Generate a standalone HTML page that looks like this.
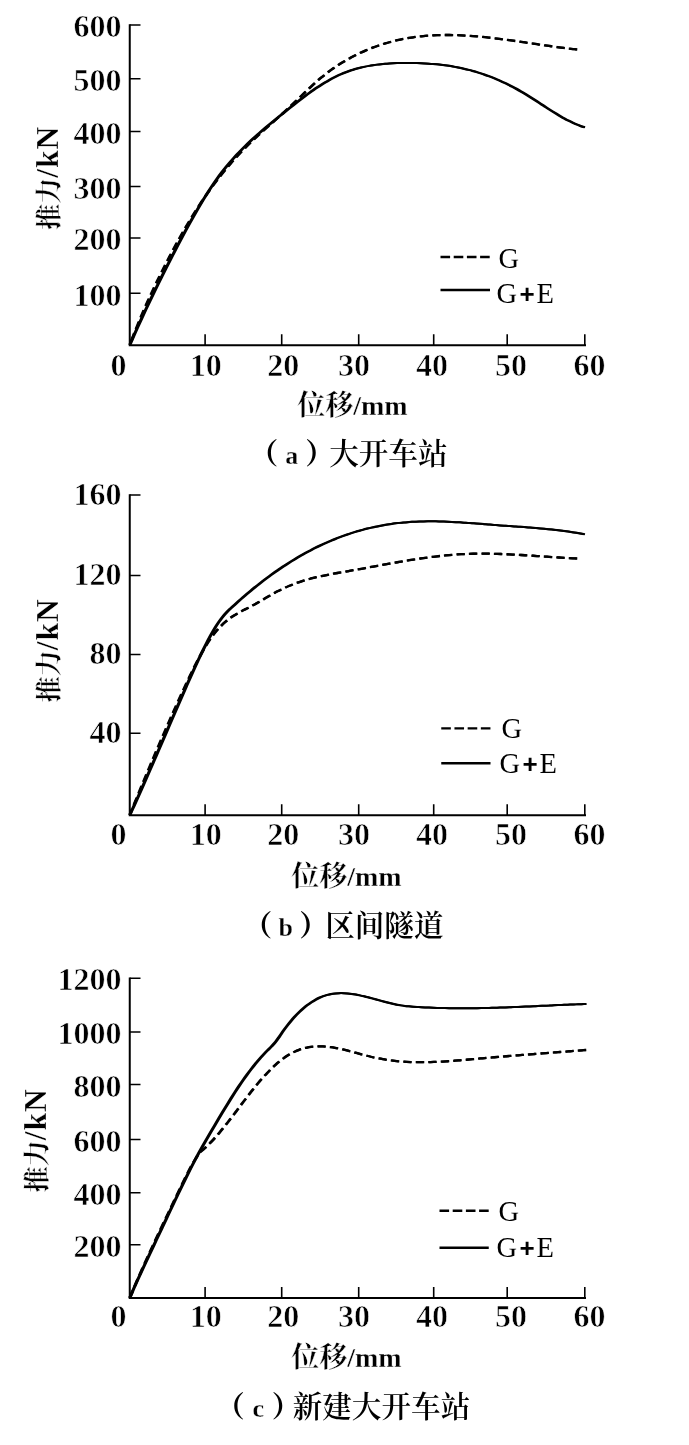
<!DOCTYPE html>
<html lang="zh"><head><meta charset="utf-8"><title>推力-位移曲线</title>
<style>html,body{margin:0;padding:0;background:#fff}svg{display:block}text{font-family:'Liberation Serif','Noto Serif CJK SC',serif;fill:#000}.tk{font-size:32px;font-weight:bold;stroke:#fff;stroke-width:.6px}.lg{font-size:28.5px}.pl{font-family:'Liberation Sans',sans-serif;font-weight:bold;font-size:26px}.cj{font-family:'Noto Serif CJK SC','Liberation Serif',serif;font-weight:600}.er{stroke:#fff;stroke-width:.3px}.ax{stroke:#000;fill:none}</style></head><body>
<svg width="689" height="1445" viewBox="0 0 689 1445">
<rect width="689" height="1445" fill="#fff"/>
<g>
<path class="ax" stroke-width="2" d="M129.75,24.20 V345.20 H586.00"/>
<path class="ax" stroke-width="1.6" d="M129.75,25.00 H140.50 M129.75,78.75 H140.50 M129.75,131.50 H140.50 M129.75,186.50 H140.50 M129.75,238.00 H140.50 M129.75,293.25 H140.50 M205.10,345.20 V334.20 M281.70,345.20 V334.20 M358.70,345.20 V334.20 M433.70,345.20 V334.20 M507.20,345.20 V334.20 M584.80,345.20 V334.20"/>
<text class="tk" x="121.5" y="37.30" text-anchor="end">600</text>
<text class="tk" x="121.5" y="91.05" text-anchor="end">500</text>
<text class="tk" x="121.5" y="143.80" text-anchor="end">400</text>
<text class="tk" x="121.5" y="198.80" text-anchor="end">300</text>
<text class="tk" x="121.5" y="250.30" text-anchor="end">200</text>
<text class="tk" x="121.5" y="305.55" text-anchor="end">100</text>
<text class="tk" x="118.60" y="375.70" text-anchor="middle">0</text>
<text class="tk" x="205.70" y="375.70" text-anchor="middle">10</text>
<text class="tk" x="283.20" y="375.70" text-anchor="middle">20</text>
<text class="tk" x="354.10" y="375.70" text-anchor="middle">30</text>
<text class="tk" x="432.10" y="375.70" text-anchor="middle">40</text>
<text class="tk" x="510.90" y="375.70" text-anchor="middle">50</text>
<text class="tk" x="589.40" y="375.70" text-anchor="middle">60</text>
<defs><path id="sa" d="M129.80,345.00 C130.46,343.48 132.46,338.87 133.79,335.87 C135.12,332.86 136.45,329.88 137.78,326.94 C139.11,324.00 140.44,321.09 141.77,318.21 C143.10,315.33 144.42,312.49 145.75,309.66 C147.08,306.83 148.41,304.04 149.74,301.26 C151.07,298.49 152.40,295.74 153.73,293.00 C155.06,290.27 156.39,287.56 157.72,284.86 C159.05,282.16 160.38,279.48 161.71,276.81 C163.04,274.15 164.37,271.49 165.70,268.85 C167.03,266.21 168.36,263.58 169.69,260.97 C171.02,258.36 172.35,255.76 173.67,253.18 C175.00,250.60 176.33,248.04 177.66,245.50 C178.99,242.96 180.32,240.44 181.65,237.94 C182.98,235.45 184.31,232.97 185.64,230.52 C186.97,228.08 188.30,225.65 189.63,223.26 C190.96,220.87 192.29,218.50 193.62,216.16 C194.95,213.83 196.28,211.52 197.61,209.25 C198.94,206.98 200.27,204.73 201.59,202.53 C202.92,200.33 204.25,198.16 205.58,196.04 C206.91,193.91 208.24,191.82 209.57,189.78 C210.90,187.74 212.23,185.74 213.56,183.80 C214.89,181.85 216.22,179.94 217.55,178.09 C218.88,176.24 220.21,174.45 221.54,172.70 C222.87,170.96 224.20,169.27 225.53,167.62 C226.86,165.98 228.19,164.39 229.51,162.83 C230.84,161.28 232.17,159.77 233.50,158.30 C234.83,156.82 236.16,155.38 237.49,153.97 C238.82,152.56 240.15,151.19 241.48,149.83 C242.81,148.48 244.14,147.16 245.47,145.86 C246.80,144.55 248.13,143.28 249.46,142.02 C250.79,140.76 252.12,139.53 253.45,138.31 C254.78,137.10 256.11,135.90 257.44,134.72 C258.76,133.54 260.09,132.38 261.42,131.23 C262.75,130.08 264.08,128.95 265.41,127.82 C266.74,126.70 268.07,125.58 269.40,124.48 C270.73,123.37 272.06,122.28 273.39,121.19 C274.72,120.10 276.05,119.02 277.38,117.94 C278.71,116.86 280.04,115.79 281.37,114.71 C282.70,113.64 284.03,112.56 285.36,111.49 C286.68,110.42 288.01,109.35 289.34,108.29 C290.67,107.22 292.00,106.16 293.33,105.11 C294.66,104.06 295.99,103.01 297.32,101.98 C298.65,100.94 299.98,99.92 301.31,98.90 C302.64,97.89 303.97,96.88 305.30,95.89 C306.63,94.90 307.96,93.92 309.29,92.97 C310.62,92.01 311.95,91.06 313.28,90.13 C314.60,89.21 315.93,88.30 317.26,87.41 C318.59,86.53 319.92,85.66 321.25,84.82 C322.58,83.97 323.91,83.15 325.24,82.35 C326.57,81.56 327.90,80.79 329.23,80.04 C330.56,79.30 331.89,78.58 333.22,77.89 C334.55,77.21 335.88,76.55 337.21,75.92 C338.54,75.30 339.87,74.70 341.20,74.13 C342.53,73.56 343.85,73.02 345.18,72.50 C346.51,71.99 347.84,71.50 349.17,71.04 C350.50,70.58 351.83,70.14 353.16,69.73 C354.49,69.32 355.82,68.93 357.15,68.56 C358.48,68.20 359.81,67.86 361.14,67.54 C362.47,67.21 363.80,66.92 365.13,66.64 C366.46,66.36 367.79,66.10 369.12,65.86 C370.45,65.62 371.77,65.40 373.10,65.19 C374.43,64.99 375.76,64.80 377.09,64.63 C378.42,64.46 379.75,64.31 381.08,64.17 C382.41,64.03 383.74,63.90 385.07,63.79 C386.40,63.68 387.73,63.58 389.06,63.50 C390.39,63.41 391.72,63.34 393.05,63.28 C394.38,63.21 395.71,63.16 397.04,63.12 C398.37,63.08 399.70,63.04 401.02,63.02 C402.35,62.99 403.68,62.98 405.01,62.97 C406.34,62.96 407.67,62.95 409.00,62.96 C410.33,62.96 411.66,62.97 412.99,62.99 C414.32,63.01 415.65,63.04 416.98,63.07 C418.31,63.11 419.64,63.15 420.97,63.21 C422.30,63.26 423.63,63.32 424.96,63.40 C426.29,63.47 427.62,63.55 428.94,63.64 C430.27,63.73 431.60,63.83 432.93,63.95 C434.26,64.06 435.59,64.18 436.92,64.31 C438.25,64.45 439.58,64.59 440.91,64.75 C442.24,64.90 443.57,65.07 444.90,65.25 C446.23,65.43 447.56,65.62 448.89,65.83 C450.22,66.03 451.55,66.25 452.88,66.48 C454.21,66.71 455.54,66.95 456.86,67.21 C458.19,67.47 459.52,67.74 460.85,68.02 C462.18,68.30 463.51,68.60 464.84,68.92 C466.17,69.23 467.50,69.56 468.83,69.90 C470.16,70.24 471.49,70.59 472.82,70.97 C474.15,71.34 475.48,71.72 476.81,72.12 C478.14,72.53 479.47,72.94 480.80,73.37 C482.13,73.81 483.46,74.25 484.79,74.72 C486.11,75.18 487.44,75.66 488.77,76.15 C490.10,76.65 491.43,77.16 492.76,77.69 C494.09,78.21 495.42,78.76 496.75,79.32 C498.08,79.88 499.41,80.46 500.74,81.05 C502.07,81.64 503.40,82.25 504.73,82.88 C506.06,83.51 507.39,84.15 508.72,84.82 C510.05,85.48 511.38,86.16 512.71,86.86 C514.03,87.55 515.36,88.27 516.69,89.00 C518.02,89.74 519.35,90.49 520.68,91.26 C522.01,92.03 523.34,92.82 524.67,93.62 C526.00,94.42 527.33,95.25 528.66,96.08 C529.99,96.91 531.32,97.76 532.65,98.61 C533.98,99.46 535.31,100.32 536.64,101.19 C537.97,102.05 539.30,102.92 540.63,103.79 C541.95,104.65 543.28,105.53 544.61,106.39 C545.94,107.25 547.27,108.12 548.60,108.97 C549.93,109.82 551.26,110.67 552.59,111.50 C553.92,112.33 555.25,113.16 556.58,113.97 C557.91,114.77 559.24,115.57 560.57,116.34 C561.90,117.11 563.23,117.86 564.56,118.59 C565.89,119.32 567.22,120.03 568.55,120.70 C569.88,121.38 571.20,122.04 572.53,122.65 C573.86,123.27 575.19,123.87 576.52,124.42 C577.85,124.97 579.18,125.49 580.51,125.97 C581.84,126.45 583.84,127.08 584.50,127.30"/><path id="da" d="M129.80,345.00 C130.47,343.26 132.46,337.96 133.79,334.55 C135.12,331.14 136.45,327.82 137.79,324.56 C139.12,321.30 140.45,318.12 141.78,314.99 C143.11,311.87 144.44,308.81 145.77,305.80 C147.10,302.80 148.43,299.85 149.76,296.95 C151.10,294.05 152.43,291.21 153.76,288.40 C155.09,285.59 156.42,282.83 157.75,280.10 C159.08,277.36 160.41,274.67 161.74,272.01 C163.07,269.34 164.40,266.71 165.74,264.10 C167.07,261.50 168.40,258.92 169.73,256.37 C171.06,253.83 172.39,251.31 173.72,248.83 C175.05,246.35 176.38,243.90 177.71,241.48 C179.05,239.07 180.38,236.68 181.71,234.33 C183.04,231.98 184.37,229.66 185.70,227.38 C187.03,225.10 188.36,222.85 189.69,220.64 C191.02,218.42 192.35,216.25 193.69,214.11 C195.02,211.97 196.35,209.86 197.68,207.79 C199.01,205.73 200.34,203.69 201.67,201.70 C203.00,199.70 204.33,197.74 205.66,195.81 C207.00,193.88 208.33,191.99 209.66,190.13 C210.99,188.27 212.32,186.45 213.65,184.65 C214.98,182.86 216.31,181.10 217.64,179.37 C218.97,177.64 220.30,175.95 221.64,174.28 C222.97,172.61 224.30,170.98 225.63,169.37 C226.96,167.77 228.29,166.19 229.62,164.65 C230.95,163.10 232.28,161.59 233.61,160.10 C234.95,158.61 236.28,157.15 237.61,155.72 C238.94,154.29 240.27,152.88 241.60,151.50 C242.93,150.12 244.26,148.77 245.59,147.44 C246.92,146.10 248.25,144.80 249.59,143.50 C250.92,142.21 252.25,140.94 253.58,139.68 C254.91,138.42 256.24,137.18 257.57,135.95 C258.90,134.72 260.23,133.50 261.56,132.29 C262.90,131.08 264.23,129.88 265.56,128.69 C266.89,127.49 268.22,126.30 269.55,125.12 C270.88,123.93 272.21,122.75 273.54,121.56 C274.87,120.38 276.20,119.20 277.54,118.01 C278.87,116.82 280.20,115.63 281.53,114.43 C282.86,113.23 284.19,112.03 285.52,110.81 C286.85,109.59 288.18,108.37 289.51,107.13 C290.85,105.89 292.18,104.64 293.51,103.37 C294.84,102.11 296.17,100.83 297.50,99.56 C298.83,98.28 300.16,96.99 301.49,95.71 C302.82,94.44 304.15,93.15 305.49,91.88 C306.82,90.62 308.15,89.35 309.48,88.10 C310.81,86.85 312.14,85.61 313.47,84.40 C314.80,83.19 316.13,81.99 317.46,80.82 C318.80,79.65 320.13,78.51 321.46,77.40 C322.79,76.29 324.12,75.21 325.45,74.16 C326.78,73.12 328.11,72.11 329.44,71.13 C330.77,70.15 332.10,69.20 333.44,68.28 C334.77,67.36 336.10,66.47 337.43,65.60 C338.76,64.73 340.09,63.89 341.42,63.08 C342.75,62.26 344.08,61.47 345.41,60.70 C346.75,59.93 348.08,59.18 349.41,58.45 C350.74,57.72 352.07,57.01 353.40,56.32 C354.73,55.63 356.06,54.96 357.39,54.31 C358.72,53.66 360.05,53.03 361.39,52.42 C362.72,51.81 364.05,51.22 365.38,50.64 C366.71,50.07 368.04,49.51 369.37,48.98 C370.70,48.44 372.03,47.92 373.36,47.42 C374.70,46.92 376.03,46.44 377.36,45.97 C378.69,45.51 380.02,45.06 381.35,44.63 C382.68,44.20 384.01,43.78 385.34,43.38 C386.67,42.99 388.00,42.60 389.34,42.24 C390.67,41.87 392.00,41.52 393.33,41.19 C394.66,40.85 395.99,40.53 397.32,40.23 C398.65,39.92 399.98,39.64 401.31,39.36 C402.65,39.09 403.98,38.83 405.31,38.58 C406.64,38.34 407.97,38.10 409.30,37.89 C410.63,37.67 411.96,37.46 413.29,37.27 C414.62,37.08 415.95,36.90 417.29,36.74 C418.62,36.57 419.95,36.42 421.28,36.28 C422.61,36.14 423.94,36.01 425.27,35.90 C426.60,35.78 427.93,35.68 429.26,35.59 C430.60,35.49 431.93,35.41 433.26,35.34 C434.59,35.27 435.92,35.21 437.25,35.16 C438.58,35.12 439.91,35.08 441.24,35.05 C442.57,35.02 443.90,35.00 445.24,35.00 C446.57,34.99 447.90,34.99 449.23,35.00 C450.56,35.01 451.89,35.03 453.22,35.06 C454.55,35.09 455.88,35.12 457.21,35.17 C458.55,35.22 459.88,35.27 461.21,35.33 C462.54,35.39 463.87,35.46 465.20,35.54 C466.53,35.61 467.86,35.70 469.19,35.79 C470.52,35.88 471.85,35.98 473.19,36.08 C474.52,36.19 475.85,36.30 477.18,36.42 C478.51,36.53 479.84,36.66 481.17,36.78 C482.50,36.91 483.83,37.05 485.16,37.19 C486.50,37.33 487.83,37.47 489.16,37.62 C490.49,37.77 491.82,37.92 493.15,38.08 C494.48,38.24 495.81,38.40 497.14,38.57 C498.47,38.73 499.80,38.90 501.14,39.07 C502.47,39.25 503.80,39.42 505.13,39.60 C506.46,39.78 507.79,39.96 509.12,40.15 C510.45,40.33 511.78,40.52 513.11,40.71 C514.45,40.90 515.78,41.09 517.11,41.28 C518.44,41.47 519.77,41.67 521.10,41.86 C522.43,42.06 523.76,42.25 525.09,42.45 C526.42,42.65 527.75,42.85 529.09,43.04 C530.42,43.24 531.75,43.44 533.08,43.63 C534.41,43.83 535.74,44.03 537.07,44.23 C538.40,44.42 539.73,44.62 541.06,44.81 C542.40,45.01 543.73,45.20 545.06,45.39 C546.39,45.58 547.72,45.77 549.05,45.96 C550.38,46.15 551.71,46.33 553.04,46.52 C554.37,46.70 555.70,46.88 557.04,47.06 C558.37,47.24 559.70,47.41 561.03,47.58 C562.36,47.76 563.69,47.92 565.02,48.09 C566.35,48.25 567.68,48.41 569.01,48.57 C570.35,48.72 571.68,48.87 573.01,49.02 C574.34,49.18 576.33,49.42 577.00,49.50"/></defs>
<g class="ax" stroke-width="2" stroke-linejoin="round"><use href="#sa" x="-0.6"/><use href="#sa" x="0.6"/></g>
<g class="ax" stroke-width="2.3" stroke-dasharray="8 4.5" stroke-dashoffset="7.97"><use href="#da" x="-0.3"/><use href="#da" x="0.3"/></g>
<path class="ax" stroke-width="2.4" stroke-dasharray="9.6 3.6" d="M440.50,257.00 H490.00"/>
<path class="ax" stroke-width="2.4" d="M440.50,290.00 H490.00"/>
<text class="lg" x="498.50" y="267.80">G</text>
<text class="lg" y="302.80"><tspan x="496.50">G</tspan><tspan class="pl" x="519.50">+</tspan><tspan x="536.50">E</tspan></text>
<text class="er" transform="translate(58.00,229.75) rotate(-90)" style="font-size:31.5px;font-weight:bold;letter-spacing:1px"><tspan class="cj" style="font-size:26px;letter-spacing:0;font-weight:700">推力</tspan>/kN</text>
<text class="er" x="297.20" y="414.50" style="font-size:28px;font-weight:bold"><tspan class="cj" style="font-size:28px;font-weight:700">位移</tspan>/mm</text>
<text class="cj" y="464.20" style="font-size:29.6px"><tspan x="278.20" text-anchor="end" style="font-size:29px;font-weight:900">（</tspan><tspan class="er" x="291.70" text-anchor="middle" style="font-family:'Liberation Serif',serif;font-size:26px;font-weight:bold">a</tspan><tspan x="305.20" style="font-size:29px;font-weight:900">）</tspan><tspan x="329.20">大开车站</tspan></text>
</g>
<g>
<path class="ax" stroke-width="2" d="M129.75,494.20 V815.20 H586.00"/>
<path class="ax" stroke-width="1.6" d="M129.75,495.00 H140.50 M129.75,575.50 H140.50 M129.75,654.50 H140.50 M129.75,733.25 H140.50 M205.10,815.20 V804.20 M281.70,815.20 V804.20 M358.70,815.20 V804.20 M433.70,815.20 V804.20 M507.20,815.20 V804.20 M584.80,815.20 V804.20"/>
<text class="tk" x="121.5" y="504.90" text-anchor="end">160</text>
<text class="tk" x="121.5" y="585.40" text-anchor="end">120</text>
<text class="tk" x="121.5" y="664.40" text-anchor="end">80</text>
<text class="tk" x="121.5" y="743.15" text-anchor="end">40</text>
<text class="tk" x="118.60" y="845.00" text-anchor="middle">0</text>
<text class="tk" x="205.70" y="845.00" text-anchor="middle">10</text>
<text class="tk" x="283.20" y="845.00" text-anchor="middle">20</text>
<text class="tk" x="354.10" y="845.00" text-anchor="middle">30</text>
<text class="tk" x="432.10" y="845.00" text-anchor="middle">40</text>
<text class="tk" x="510.90" y="845.00" text-anchor="middle">50</text>
<text class="tk" x="589.40" y="845.00" text-anchor="middle">60</text>
<defs><path id="sb" d="M129.80,815.00 C130.47,813.54 132.49,809.16 133.84,806.21 C135.19,803.26 136.53,800.29 137.88,797.30 C139.22,794.31 140.57,791.30 141.92,788.28 C143.26,785.26 144.61,782.22 145.96,779.17 C147.30,776.12 148.65,773.05 150.00,769.97 C151.34,766.90 152.69,763.81 154.03,760.72 C155.38,757.63 156.73,754.52 158.07,751.42 C159.42,748.31 160.77,745.20 162.11,742.09 C163.46,738.97 164.81,735.85 166.15,732.74 C167.50,729.62 168.84,726.51 170.19,723.39 C171.54,720.28 172.88,717.17 174.23,714.07 C175.58,710.96 176.92,707.86 178.27,704.77 C179.62,701.68 180.96,698.60 182.31,695.53 C183.66,692.45 185.00,689.39 186.35,686.34 C187.69,683.30 189.04,680.26 190.39,677.26 C191.73,674.26 193.08,671.27 194.43,668.34 C195.77,665.40 197.12,662.49 198.47,659.64 C199.81,656.79 201.16,653.98 202.50,651.24 C203.85,648.50 205.20,645.81 206.54,643.20 C207.89,640.59 209.24,638.04 210.58,635.59 C211.93,633.13 213.28,630.69 214.62,628.47 C215.97,626.26 217.31,624.23 218.66,622.29 C220.01,620.34 221.36,618.48 222.70,616.82 C224.04,615.15 225.38,613.71 226.72,612.30 C228.06,610.89 229.40,609.63 230.74,608.36 C232.08,607.09 233.42,605.88 234.76,604.66 C236.10,603.44 237.44,602.24 238.78,601.05 C240.12,599.85 241.45,598.67 242.79,597.51 C244.13,596.35 245.47,595.19 246.81,594.06 C248.15,592.92 249.49,591.80 250.83,590.69 C252.17,589.58 253.51,588.48 254.85,587.40 C256.19,586.31 257.53,585.24 258.87,584.19 C260.21,583.13 261.55,582.09 262.89,581.06 C264.23,580.04 265.57,579.02 266.91,578.02 C268.25,577.02 269.59,576.03 270.93,575.06 C272.27,574.09 273.61,573.13 274.95,572.18 C276.29,571.24 277.62,570.31 278.96,569.39 C280.30,568.47 281.64,567.57 282.98,566.68 C284.32,565.79 285.66,564.91 287.00,564.05 C288.34,563.19 289.68,562.34 291.02,561.50 C292.36,560.67 293.70,559.85 295.04,559.04 C296.38,558.23 297.72,557.44 299.06,556.66 C300.40,555.88 301.74,555.11 303.08,554.36 C304.42,553.61 305.76,552.87 307.10,552.15 C308.44,551.42 309.78,550.71 311.12,550.02 C312.46,549.32 313.79,548.64 315.13,547.97 C316.47,547.30 317.81,546.65 319.15,546.01 C320.49,545.37 321.83,544.74 323.17,544.12 C324.51,543.51 325.85,542.91 327.19,542.32 C328.53,541.74 329.87,541.16 331.21,540.60 C332.55,540.04 333.89,539.49 335.23,538.96 C336.57,538.42 337.91,537.90 339.25,537.39 C340.59,536.89 341.93,536.39 343.27,535.91 C344.61,535.43 345.95,534.96 347.29,534.50 C348.63,534.04 349.96,533.60 351.30,533.17 C352.64,532.74 353.98,532.32 355.32,531.91 C356.66,531.50 358.00,531.11 359.34,530.73 C360.68,530.35 362.02,529.98 363.36,529.62 C364.70,529.26 366.04,528.92 367.38,528.59 C368.72,528.25 370.06,527.93 371.40,527.63 C372.74,527.32 374.08,527.02 375.42,526.74 C376.76,526.45 378.10,526.18 379.44,525.92 C380.78,525.66 382.12,525.41 383.46,525.17 C384.80,524.93 386.13,524.71 387.47,524.49 C388.81,524.28 390.15,524.08 391.49,523.89 C392.83,523.69 394.17,523.51 395.51,523.34 C396.85,523.18 398.19,523.02 399.53,522.87 C400.87,522.73 402.21,522.59 403.55,522.47 C404.89,522.34 406.23,522.23 407.57,522.13 C408.91,522.03 410.25,521.93 411.59,521.85 C412.93,521.77 414.27,521.70 415.61,521.64 C416.95,521.58 418.29,521.53 419.63,521.48 C420.97,521.44 422.30,521.41 423.64,521.38 C424.98,521.36 426.32,521.34 427.66,521.33 C429.00,521.32 430.34,521.32 431.68,521.33 C433.02,521.34 434.36,521.35 435.70,521.37 C437.04,521.39 438.38,521.42 439.72,521.45 C441.06,521.49 442.40,521.53 443.74,521.58 C445.08,521.62 446.42,521.67 447.76,521.73 C449.10,521.79 450.44,521.85 451.78,521.92 C453.12,521.99 454.46,522.06 455.80,522.13 C457.14,522.21 458.47,522.29 459.81,522.37 C461.15,522.46 462.49,522.54 463.83,522.63 C465.17,522.72 466.51,522.82 467.85,522.91 C469.19,523.01 470.53,523.10 471.87,523.20 C473.21,523.30 474.55,523.41 475.89,523.51 C477.23,523.61 478.57,523.71 479.91,523.82 C481.25,523.92 482.59,524.03 483.93,524.14 C485.27,524.24 486.61,524.35 487.95,524.45 C489.29,524.56 490.63,524.66 491.97,524.77 C493.31,524.87 494.64,524.98 495.98,525.08 C497.32,525.18 498.66,525.28 500.00,525.38 C501.34,525.48 502.68,525.58 504.02,525.67 C505.36,525.77 506.70,525.86 508.04,525.96 C509.38,526.05 510.72,526.15 512.06,526.24 C513.40,526.34 514.74,526.43 516.08,526.53 C517.42,526.62 518.76,526.72 520.10,526.81 C521.44,526.91 522.78,527.01 524.12,527.10 C525.46,527.20 526.80,527.30 528.14,527.40 C529.48,527.51 530.81,527.61 532.15,527.72 C533.49,527.82 534.83,527.93 536.17,528.04 C537.51,528.16 538.85,528.27 540.19,528.39 C541.53,528.51 542.87,528.63 544.21,528.76 C545.55,528.88 546.89,529.01 548.23,529.15 C549.57,529.28 550.91,529.42 552.25,529.56 C553.59,529.71 554.93,529.85 556.27,530.01 C557.61,530.16 558.95,530.32 560.29,530.49 C561.63,530.65 562.97,530.82 564.31,531.00 C565.65,531.18 566.98,531.36 568.32,531.55 C569.66,531.75 571.00,531.94 572.34,532.15 C573.68,532.35 575.02,532.57 576.36,532.79 C577.70,533.01 579.04,533.24 580.38,533.47 C581.72,533.71 583.73,534.08 584.40,534.20"/><path id="db" d="M129.80,815.00 C130.47,813.36 132.46,808.43 133.79,805.17 C135.12,801.90 136.45,798.65 137.79,795.41 C139.12,792.17 140.45,788.94 141.78,785.72 C143.11,782.51 144.44,779.30 145.77,776.11 C147.10,772.92 148.43,769.75 149.76,766.58 C151.10,763.42 152.43,760.27 153.76,757.14 C155.09,754.00 156.42,750.88 157.75,747.78 C159.08,744.67 160.41,741.58 161.74,738.51 C163.07,735.44 164.40,732.38 165.74,729.34 C167.07,726.30 168.40,723.27 169.73,720.27 C171.06,717.26 172.39,714.27 173.72,711.29 C175.05,708.32 176.38,705.37 177.71,702.43 C179.05,699.49 180.38,696.57 181.71,693.67 C183.04,690.77 184.37,687.89 185.70,685.03 C187.03,682.18 188.36,679.34 189.69,676.55 C191.02,673.77 192.35,671.01 193.69,668.33 C195.02,665.64 196.35,663.00 197.68,660.45 C199.01,657.90 200.34,655.41 201.67,653.03 C203.00,650.64 204.33,648.33 205.66,646.15 C207.00,643.96 208.33,641.87 209.66,639.91 C210.99,637.95 212.32,636.11 213.65,634.38 C214.98,632.65 216.31,631.05 217.64,629.53 C218.97,628.02 220.30,626.62 221.64,625.31 C222.97,624.00 224.30,622.80 225.63,621.67 C226.96,620.54 228.29,619.51 229.62,618.54 C230.95,617.56 232.28,616.67 233.61,615.81 C234.95,614.96 236.28,614.17 237.61,613.41 C238.94,612.64 240.27,611.92 241.60,611.21 C242.93,610.50 244.26,609.83 245.59,609.14 C246.92,608.46 248.25,607.79 249.59,607.10 C250.92,606.40 252.25,605.70 253.58,604.98 C254.91,604.25 256.24,603.50 257.57,602.74 C258.90,601.99 260.23,601.21 261.56,600.44 C262.90,599.66 264.23,598.87 265.56,598.10 C266.89,597.32 268.22,596.54 269.55,595.77 C270.88,595.00 272.21,594.24 273.54,593.50 C274.87,592.76 276.20,592.03 277.54,591.34 C278.87,590.64 280.20,589.96 281.53,589.31 C282.86,588.67 284.19,588.05 285.52,587.45 C286.85,586.85 288.18,586.28 289.51,585.73 C290.85,585.18 292.18,584.66 293.51,584.15 C294.84,583.64 296.17,583.16 297.50,582.70 C298.83,582.23 300.16,581.79 301.49,581.36 C302.82,580.93 304.15,580.53 305.49,580.13 C306.82,579.74 308.15,579.37 309.48,579.00 C310.81,578.64 312.14,578.30 313.47,577.96 C314.80,577.63 316.13,577.31 317.46,577.00 C318.80,576.69 320.13,576.39 321.46,576.10 C322.79,575.81 324.12,575.54 325.45,575.26 C326.78,574.99 328.11,574.73 329.44,574.48 C330.77,574.22 332.10,573.97 333.44,573.73 C334.77,573.48 336.10,573.24 337.43,573.00 C338.76,572.77 340.09,572.53 341.42,572.30 C342.75,572.07 344.08,571.84 345.41,571.61 C346.75,571.38 348.08,571.15 349.41,570.91 C350.74,570.68 352.07,570.45 353.40,570.21 C354.73,569.97 356.06,569.74 357.39,569.50 C358.72,569.26 360.05,569.02 361.39,568.77 C362.72,568.53 364.05,568.29 365.38,568.05 C366.71,567.80 368.04,567.56 369.37,567.31 C370.70,567.07 372.03,566.82 373.36,566.58 C374.70,566.34 376.03,566.09 377.36,565.85 C378.69,565.60 380.02,565.36 381.35,565.11 C382.68,564.87 384.01,564.63 385.34,564.39 C386.67,564.15 388.00,563.90 389.34,563.67 C390.67,563.43 392.00,563.19 393.33,562.95 C394.66,562.72 395.99,562.48 397.32,562.25 C398.65,562.02 399.98,561.79 401.31,561.56 C402.65,561.34 403.98,561.11 405.31,560.89 C406.64,560.67 407.97,560.45 409.30,560.23 C410.63,560.02 411.96,559.80 413.29,559.59 C414.62,559.39 415.95,559.18 417.29,558.98 C418.62,558.78 419.95,558.58 421.28,558.38 C422.61,558.19 423.94,558.00 425.27,557.82 C426.60,557.63 427.93,557.45 429.26,557.28 C430.60,557.10 431.93,556.93 433.26,556.77 C434.59,556.60 435.92,556.44 437.25,556.29 C438.58,556.13 439.91,555.98 441.24,555.84 C442.57,555.70 443.90,555.56 445.24,555.43 C446.57,555.30 447.90,555.18 449.23,555.06 C450.56,554.94 451.89,554.83 453.22,554.73 C454.55,554.63 455.88,554.53 457.21,554.44 C458.55,554.35 459.88,554.27 461.21,554.20 C462.54,554.12 463.87,554.06 465.20,554.00 C466.53,553.94 467.86,553.89 469.19,553.85 C470.52,553.80 471.85,553.77 473.19,553.74 C474.52,553.71 475.85,553.69 477.18,553.67 C478.51,553.66 479.84,553.65 481.17,553.65 C482.50,553.64 483.83,553.65 485.16,553.66 C486.50,553.67 487.83,553.68 489.16,553.70 C490.49,553.72 491.82,553.75 493.15,553.78 C494.48,553.81 495.81,553.84 497.14,553.88 C498.47,553.92 499.80,553.97 501.14,554.01 C502.47,554.06 503.80,554.12 505.13,554.17 C506.46,554.23 507.79,554.29 509.12,554.35 C510.45,554.41 511.78,554.48 513.11,554.55 C514.45,554.62 515.78,554.69 517.11,554.77 C518.44,554.84 519.77,554.92 521.10,555.00 C522.43,555.08 523.76,555.16 525.09,555.25 C526.42,555.33 527.75,555.41 529.09,555.50 C530.42,555.59 531.75,555.68 533.08,555.76 C534.41,555.85 535.74,555.94 537.07,556.03 C538.40,556.12 539.73,556.22 541.06,556.31 C542.40,556.40 543.73,556.49 545.06,556.58 C546.39,556.67 547.72,556.76 549.05,556.85 C550.38,556.94 551.71,557.03 553.04,557.12 C554.37,557.21 555.70,557.29 557.04,557.38 C558.37,557.46 559.70,557.55 561.03,557.63 C562.36,557.71 563.69,557.79 565.02,557.87 C566.35,557.95 567.68,558.03 569.01,558.10 C570.35,558.17 571.68,558.24 573.01,558.31 C574.34,558.38 576.33,558.47 577.00,558.50"/></defs>
<g class="ax" stroke-width="2" stroke-linejoin="round"><use href="#sb" x="-0.6"/><use href="#sb" x="0.6"/></g>
<g class="ax" stroke-width="2.3" stroke-dasharray="8 4.5" stroke-dashoffset="1.72"><use href="#db" x="-0.3"/><use href="#db" x="0.3"/></g>
<path class="ax" stroke-width="2.4" stroke-dasharray="9.6 3.6" d="M441.25,728.40 H490.50"/>
<path class="ax" stroke-width="2.4" d="M441.25,763.20 H490.50"/>
<text class="lg" x="501.50" y="738.00">G</text>
<text class="lg" y="772.70"><tspan x="499.50">G</tspan><tspan class="pl" x="522.50">+</tspan><tspan x="539.50">E</tspan></text>
<text class="er" transform="translate(58.00,702.25) rotate(-90)" style="font-size:31.5px;font-weight:bold;letter-spacing:1px"><tspan class="cj" style="font-size:26px;letter-spacing:0;font-weight:700">推力</tspan>/kN</text>
<text class="er" x="291.20" y="885.50" style="font-size:28px;font-weight:bold"><tspan class="cj" style="font-size:28px;font-weight:700">位移</tspan>/mm</text>
<text class="cj" y="936.20" style="font-size:29.6px"><tspan x="272.20" text-anchor="end" style="font-size:29px;font-weight:900">（</tspan><tspan class="er" x="285.70" text-anchor="middle" style="font-family:'Liberation Serif',serif;font-size:26px;font-weight:bold">b</tspan><tspan x="299.20" style="font-size:29px;font-weight:900">）</tspan><tspan x="325.20">区间隧道</tspan></text>
</g>
<g>
<path class="ax" stroke-width="2" d="M129.75,977.45 V1297.90 H586.00"/>
<path class="ax" stroke-width="1.6" d="M129.75,978.25 H140.50 M129.75,1032.00 H140.50 M129.75,1084.50 H140.50 M129.75,1139.50 H140.50 M129.75,1192.75 H140.50 M129.75,1244.75 H140.50 M205.10,1297.90 V1286.90 M281.70,1297.90 V1286.90 M358.70,1297.90 V1286.90 M433.70,1297.90 V1286.90 M507.20,1297.90 V1286.90 M584.80,1297.90 V1286.90"/>
<text class="tk" x="121.5" y="990.45" text-anchor="end">1200</text>
<text class="tk" x="121.5" y="1044.20" text-anchor="end">1000</text>
<text class="tk" x="121.5" y="1096.70" text-anchor="end">800</text>
<text class="tk" x="121.5" y="1151.70" text-anchor="end">600</text>
<text class="tk" x="121.5" y="1204.95" text-anchor="end">400</text>
<text class="tk" x="121.5" y="1256.95" text-anchor="end">200</text>
<text class="tk" x="118.60" y="1326.70" text-anchor="middle">0</text>
<text class="tk" x="205.70" y="1326.70" text-anchor="middle">10</text>
<text class="tk" x="283.20" y="1326.70" text-anchor="middle">20</text>
<text class="tk" x="354.10" y="1326.70" text-anchor="middle">30</text>
<text class="tk" x="432.10" y="1326.70" text-anchor="middle">40</text>
<text class="tk" x="510.90" y="1326.70" text-anchor="middle">50</text>
<text class="tk" x="589.40" y="1326.70" text-anchor="middle">60</text>
<defs><path id="sc" d="M129.80,1297.80 C130.48,1296.24 132.50,1291.53 133.85,1288.47 C135.20,1285.40 136.55,1282.39 137.90,1279.41 C139.25,1276.43 140.60,1273.49 141.95,1270.57 C143.30,1267.65 144.65,1264.77 146.00,1261.89 C147.35,1259.01 148.70,1256.15 150.05,1253.29 C151.40,1250.43 152.75,1247.58 154.10,1244.73 C155.45,1241.87 156.80,1239.01 158.15,1236.15 C159.50,1233.30 160.85,1230.44 162.20,1227.58 C163.55,1224.72 164.90,1221.86 166.25,1219.00 C167.60,1216.15 168.95,1213.29 170.30,1210.44 C171.65,1207.59 173.00,1204.74 174.35,1201.90 C175.70,1199.05 177.05,1196.21 178.40,1193.39 C179.75,1190.57 181.10,1187.75 182.45,1184.97 C183.80,1182.19 185.15,1179.43 186.50,1176.71 C187.85,1173.99 189.20,1171.31 190.55,1168.67 C191.90,1166.03 193.25,1163.42 194.60,1160.87 C195.95,1158.32 197.30,1155.81 198.65,1153.34 C200.00,1150.88 201.35,1148.46 202.70,1146.07 C204.05,1143.67 205.40,1141.32 206.75,1138.98 C208.10,1136.65 209.45,1134.34 210.80,1132.03 C212.15,1129.73 213.50,1127.44 214.85,1125.16 C216.20,1122.87 217.55,1120.59 218.90,1118.33 C220.25,1116.06 221.60,1113.80 222.95,1111.57 C224.30,1109.33 225.65,1107.10 227.00,1104.91 C228.35,1102.71 229.70,1100.54 231.05,1098.39 C232.40,1096.25 233.75,1094.13 235.10,1092.05 C236.45,1089.97 237.80,1087.93 239.15,1085.92 C240.50,1083.91 241.85,1081.94 243.20,1080.02 C244.55,1078.09 245.90,1076.21 247.25,1074.37 C248.60,1072.53 249.95,1070.74 251.30,1068.99 C252.65,1067.25 254.00,1065.55 255.35,1063.91 C256.70,1062.27 258.05,1060.68 259.40,1059.13 C260.75,1057.59 262.10,1056.11 263.45,1054.66 C264.80,1053.21 266.15,1051.80 267.50,1050.42 C268.85,1049.04 270.20,1047.81 271.55,1046.38 C272.90,1044.95 274.26,1043.52 275.60,1041.85 C276.94,1040.18 278.25,1038.25 279.58,1036.36 C280.90,1034.48 282.23,1032.39 283.56,1030.54 C284.88,1028.69 286.21,1026.94 287.54,1025.25 C288.86,1023.56 290.19,1021.94 291.51,1020.39 C292.84,1018.83 294.17,1017.35 295.49,1015.94 C296.82,1014.52 298.15,1013.18 299.47,1011.90 C300.80,1010.62 302.12,1009.41 303.45,1008.27 C304.78,1007.13 306.10,1006.06 307.43,1005.05 C308.75,1004.04 310.08,1003.10 311.41,1002.22 C312.73,1001.34 314.06,1000.53 315.39,999.79 C316.71,999.04 318.04,998.36 319.36,997.74 C320.69,997.13 322.02,996.56 323.34,996.08 C324.67,995.61 326.00,995.25 327.32,994.90 C328.65,994.55 329.96,994.24 331.30,993.99 C332.64,993.75 334.03,993.59 335.39,993.45 C336.75,993.30 338.11,993.18 339.48,993.14 C340.84,993.09 342.20,993.12 343.57,993.17 C344.93,993.22 346.29,993.31 347.66,993.44 C349.02,993.56 350.38,993.72 351.74,993.91 C353.11,994.10 354.47,994.32 355.83,994.56 C357.20,994.81 358.56,995.08 359.92,995.37 C361.29,995.66 362.65,995.97 364.01,996.29 C365.37,996.62 366.74,996.96 368.10,997.31 C369.46,997.66 370.83,998.03 372.19,998.40 C373.55,998.77 374.91,999.14 376.28,999.52 C377.64,999.89 379.00,1000.28 380.37,1000.65 C381.73,1001.02 383.09,1001.40 384.46,1001.76 C385.82,1002.12 387.18,1002.48 388.54,1002.82 C389.91,1003.16 391.27,1003.49 392.63,1003.80 C394.00,1004.11 395.36,1004.41 396.72,1004.68 C398.09,1004.94 399.45,1005.17 400.81,1005.38 C402.17,1005.59 403.55,1005.78 404.90,1005.94 C406.25,1006.10 407.58,1006.21 408.92,1006.33 C410.27,1006.45 411.61,1006.55 412.95,1006.64 C414.29,1006.74 415.63,1006.83 416.97,1006.92 C418.31,1007.01 419.66,1007.09 421.00,1007.17 C422.34,1007.25 423.68,1007.32 425.02,1007.39 C426.36,1007.46 427.71,1007.52 429.05,1007.58 C430.39,1007.64 431.73,1007.70 433.07,1007.75 C434.41,1007.80 435.75,1007.85 437.10,1007.89 C438.44,1007.94 439.78,1007.98 441.12,1008.01 C442.46,1008.05 443.80,1008.08 445.14,1008.11 C446.49,1008.14 447.83,1008.16 449.17,1008.18 C450.51,1008.20 451.85,1008.22 453.19,1008.24 C454.53,1008.25 455.88,1008.26 457.22,1008.27 C458.56,1008.27 459.90,1008.28 461.24,1008.28 C462.58,1008.28 463.93,1008.28 465.27,1008.27 C466.61,1008.27 467.95,1008.26 469.29,1008.25 C470.63,1008.24 471.97,1008.23 473.32,1008.21 C474.66,1008.19 476.00,1008.17 477.34,1008.15 C478.68,1008.13 480.02,1008.11 481.36,1008.08 C482.71,1008.06 484.05,1008.03 485.39,1008.00 C486.73,1007.97 488.07,1007.93 489.41,1007.90 C490.75,1007.86 492.10,1007.83 493.44,1007.79 C494.78,1007.75 496.12,1007.71 497.46,1007.67 C498.80,1007.62 500.15,1007.58 501.49,1007.53 C502.83,1007.49 504.17,1007.44 505.51,1007.39 C506.85,1007.35 508.19,1007.30 509.54,1007.24 C510.88,1007.19 512.22,1007.14 513.56,1007.09 C514.90,1007.03 516.24,1006.98 517.58,1006.92 C518.93,1006.87 520.27,1006.81 521.61,1006.75 C522.95,1006.70 524.29,1006.64 525.63,1006.58 C526.97,1006.52 528.32,1006.46 529.66,1006.40 C531.00,1006.34 532.34,1006.28 533.68,1006.22 C535.02,1006.16 536.37,1006.10 537.71,1006.04 C539.05,1005.98 540.39,1005.92 541.73,1005.85 C543.07,1005.79 544.41,1005.73 545.76,1005.67 C547.10,1005.61 548.44,1005.55 549.78,1005.49 C551.12,1005.43 552.46,1005.36 553.80,1005.30 C555.15,1005.24 556.49,1005.18 557.83,1005.12 C559.17,1005.07 560.51,1005.01 561.85,1004.95 C563.19,1004.89 564.54,1004.83 565.88,1004.78 C567.22,1004.72 568.56,1004.67 569.90,1004.61 C571.24,1004.56 572.59,1004.50 573.93,1004.45 C575.27,1004.40 576.61,1004.35 577.95,1004.30 C579.29,1004.25 580.63,1004.20 581.98,1004.15 C583.32,1004.10 585.33,1004.03 586.00,1004.00"/><path id="dc" d="M129.80,1297.80 C130.48,1296.17 132.53,1291.26 133.90,1288.05 C135.27,1284.84 136.63,1281.68 138.00,1278.55 C139.37,1275.42 140.73,1272.33 142.10,1269.27 C143.47,1266.21 144.83,1263.18 146.20,1260.18 C147.57,1257.17 148.93,1254.20 150.30,1251.24 C151.67,1248.29 153.03,1245.36 154.40,1242.44 C155.77,1239.52 157.13,1236.62 158.50,1233.73 C159.87,1230.84 161.23,1227.96 162.60,1225.09 C163.97,1222.22 165.33,1219.35 166.70,1216.49 C168.07,1213.62 169.43,1210.76 170.80,1207.89 C172.17,1205.02 173.53,1202.14 174.90,1199.27 C176.27,1196.39 177.63,1193.50 179.00,1190.65 C180.37,1187.80 181.73,1184.95 183.10,1182.17 C184.47,1179.39 185.83,1176.64 187.20,1173.98 C188.57,1171.32 189.93,1168.70 191.30,1166.20 C192.67,1163.71 194.03,1161.28 195.40,1159.00 C196.77,1156.71 198.82,1153.58 199.50,1152.50 C200.16,1151.96 202.16,1150.42 203.48,1149.27 C204.81,1148.13 206.14,1146.91 207.47,1145.63 C208.80,1144.36 210.13,1143.01 211.45,1141.63 C212.78,1140.24 214.11,1138.79 215.44,1137.30 C216.77,1135.81 218.09,1134.27 219.42,1132.69 C220.75,1131.12 222.08,1129.50 223.41,1127.86 C224.74,1126.22 226.06,1124.55 227.39,1122.85 C228.72,1121.16 230.05,1119.44 231.38,1117.71 C232.70,1115.98 234.03,1114.22 235.36,1112.47 C236.69,1110.72 238.02,1108.95 239.35,1107.20 C240.67,1105.44 242.00,1103.67 243.33,1101.92 C244.66,1100.17 245.99,1098.43 247.31,1096.70 C248.64,1094.98 249.97,1093.26 251.30,1091.58 C252.63,1089.89 253.96,1088.22 255.28,1086.60 C256.61,1084.97 257.94,1083.36 259.27,1081.80 C260.60,1080.24 261.92,1078.72 263.25,1077.24 C264.58,1075.76 265.91,1074.32 267.24,1072.92 C268.57,1071.53 269.89,1070.18 271.22,1068.88 C272.55,1067.58 273.88,1066.32 275.21,1065.12 C276.53,1063.93 277.86,1062.77 279.19,1061.68 C280.52,1060.59 281.85,1059.55 283.18,1058.57 C284.50,1057.60 285.83,1056.67 287.16,1055.82 C288.49,1054.96 289.82,1054.16 291.14,1053.44 C292.47,1052.71 293.80,1052.04 295.13,1051.44 C296.46,1050.83 297.79,1050.30 299.11,1049.81 C300.44,1049.33 301.77,1048.90 303.10,1048.53 C304.43,1048.15 305.75,1047.84 307.08,1047.56 C308.41,1047.29 309.74,1047.08 311.07,1046.90 C312.40,1046.72 313.72,1046.60 315.05,1046.51 C316.38,1046.42 317.71,1046.38 319.04,1046.37 C320.36,1046.36 321.69,1046.39 323.02,1046.46 C324.35,1046.52 325.68,1046.62 327.01,1046.75 C328.33,1046.88 329.66,1047.04 330.99,1047.22 C332.32,1047.41 333.65,1047.62 334.97,1047.85 C336.30,1048.08 337.63,1048.34 338.96,1048.62 C340.29,1048.89 341.62,1049.19 342.94,1049.49 C344.27,1049.80 345.60,1050.12 346.93,1050.45 C348.26,1050.79 349.58,1051.13 350.91,1051.48 C352.24,1051.83 353.57,1052.19 354.90,1052.55 C356.23,1052.90 357.55,1053.27 358.88,1053.63 C360.21,1053.99 361.54,1054.35 362.87,1054.71 C364.19,1055.06 365.52,1055.41 366.85,1055.75 C368.18,1056.09 369.51,1056.43 370.84,1056.75 C372.16,1057.07 373.49,1057.38 374.82,1057.67 C376.15,1057.96 377.48,1058.23 378.80,1058.49 C380.13,1058.75 381.46,1058.99 382.79,1059.22 C384.12,1059.45 385.45,1059.66 386.77,1059.86 C388.10,1060.06 389.43,1060.24 390.76,1060.41 C392.09,1060.58 393.41,1060.74 394.74,1060.88 C396.07,1061.03 397.40,1061.16 398.73,1061.28 C400.05,1061.40 401.38,1061.50 402.71,1061.60 C404.04,1061.69 405.37,1061.77 406.70,1061.84 C408.02,1061.92 409.35,1061.98 410.68,1062.03 C412.01,1062.08 413.34,1062.12 414.66,1062.15 C415.99,1062.17 417.32,1062.19 418.65,1062.20 C419.98,1062.22 421.31,1062.22 422.63,1062.21 C423.96,1062.20 425.29,1062.19 426.62,1062.16 C427.95,1062.14 429.27,1062.11 430.60,1062.07 C431.93,1062.03 433.26,1061.98 434.59,1061.93 C435.92,1061.88 437.24,1061.82 438.57,1061.75 C439.90,1061.69 441.23,1061.62 442.56,1061.54 C443.88,1061.47 445.21,1061.38 446.54,1061.30 C447.87,1061.21 449.20,1061.12 450.53,1061.03 C451.85,1060.93 453.18,1060.83 454.51,1060.73 C455.84,1060.63 457.17,1060.52 458.49,1060.41 C459.82,1060.30 461.15,1060.19 462.48,1060.08 C463.81,1059.97 465.14,1059.85 466.46,1059.73 C467.79,1059.62 469.12,1059.50 470.45,1059.38 C471.78,1059.26 473.10,1059.14 474.43,1059.02 C475.76,1058.90 477.09,1058.78 478.42,1058.66 C479.75,1058.54 481.07,1058.42 482.40,1058.31 C483.73,1058.19 485.06,1058.07 486.39,1057.95 C487.71,1057.84 489.04,1057.72 490.37,1057.61 C491.70,1057.49 493.03,1057.38 494.36,1057.26 C495.68,1057.15 497.01,1057.04 498.34,1056.92 C499.67,1056.81 501.00,1056.70 502.32,1056.59 C503.65,1056.48 504.98,1056.37 506.31,1056.26 C507.64,1056.14 508.97,1056.04 510.29,1055.93 C511.62,1055.82 512.95,1055.71 514.28,1055.60 C515.61,1055.49 516.93,1055.38 518.26,1055.28 C519.59,1055.17 520.92,1055.06 522.25,1054.96 C523.58,1054.85 524.90,1054.74 526.23,1054.64 C527.56,1054.53 528.89,1054.43 530.22,1054.32 C531.54,1054.22 532.87,1054.11 534.20,1054.01 C535.53,1053.90 536.86,1053.80 538.19,1053.69 C539.51,1053.59 540.84,1053.49 542.17,1053.38 C543.50,1053.28 544.83,1053.18 546.15,1053.07 C547.48,1052.97 548.81,1052.87 550.14,1052.77 C551.47,1052.66 552.80,1052.56 554.12,1052.46 C555.45,1052.36 556.78,1052.25 558.11,1052.15 C559.44,1052.05 560.76,1051.95 562.09,1051.85 C563.42,1051.74 564.75,1051.64 566.08,1051.54 C567.41,1051.44 568.73,1051.34 570.06,1051.23 C571.39,1051.13 572.72,1051.03 574.05,1050.93 C575.37,1050.83 576.70,1050.73 578.03,1050.62 C579.36,1050.52 580.69,1050.42 582.02,1050.32 C583.34,1050.21 585.34,1050.05 586.00,1050.00"/></defs>
<g class="ax" stroke-width="2" stroke-linejoin="round"><use href="#sc" x="-0.6"/><use href="#sc" x="0.6"/></g>
<g class="ax" stroke-width="2.3" stroke-dasharray="8 4.5" stroke-dashoffset="0.43"><use href="#dc" x="-0.3"/><use href="#dc" x="0.3"/></g>
<path class="ax" stroke-width="2.4" stroke-dasharray="9.6 3.6" d="M439.50,1210.70 H488.75"/>
<path class="ax" stroke-width="2.4" d="M439.50,1247.80 H488.75"/>
<text class="lg" x="498.50" y="1221.30">G</text>
<text class="lg" y="1257.00"><tspan x="496.50">G</tspan><tspan class="pl" x="519.50">+</tspan><tspan x="536.50">E</tspan></text>
<text class="er" transform="translate(45.50,1192.25) rotate(-90)" style="font-size:31.5px;font-weight:bold;letter-spacing:1px"><tspan class="cj" style="font-size:26px;letter-spacing:0;font-weight:700">推力</tspan>/kN</text>
<text class="er" x="291.20" y="1367.00" style="font-size:28px;font-weight:bold"><tspan class="cj" style="font-size:28px;font-weight:700">位移</tspan>/mm</text>
<text class="cj" y="1417.40" style="font-size:29.6px"><tspan x="244.70" text-anchor="end" style="font-size:29px;font-weight:900">（</tspan><tspan class="er" x="258.20" text-anchor="middle" style="font-family:'Liberation Serif',serif;font-size:26px;font-weight:bold">c</tspan><tspan x="271.70" style="font-size:29px;font-weight:900">）</tspan><tspan x="292.70">新建大开车站</tspan></text>
</g>
</svg></body></html>
